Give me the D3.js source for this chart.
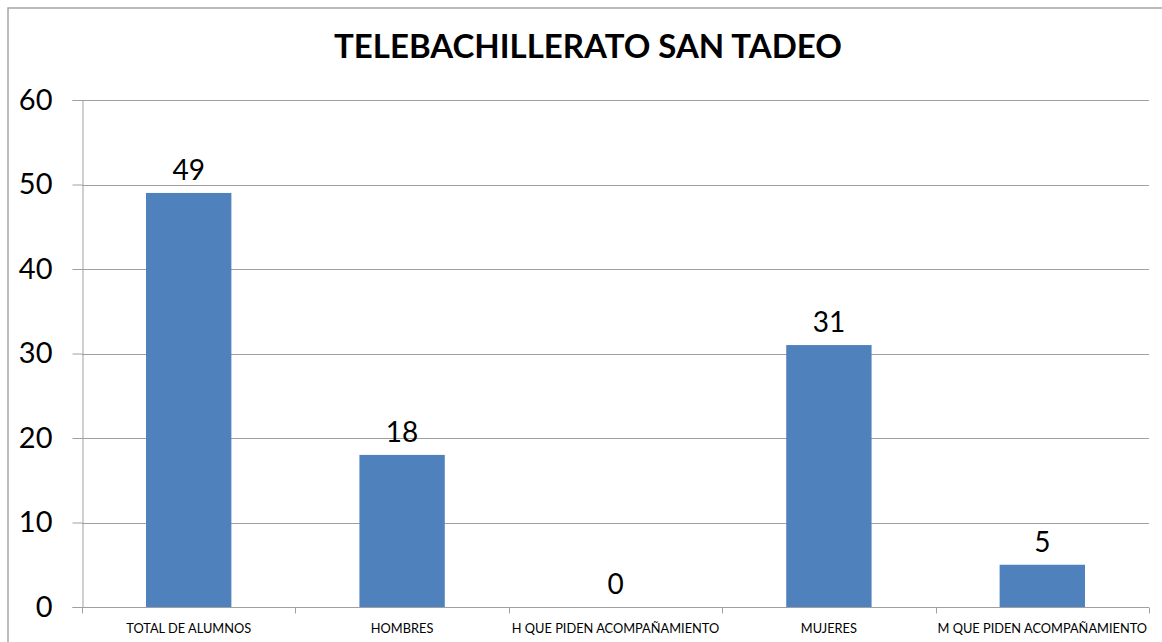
<!DOCTYPE html>
<html>
<head>
<meta charset="utf-8">
<script src="https://cdn.jsdelivr.net/npm/d3@7"></script>
<style>
  body { margin: 0; background: #fff; }
  svg { display: block; }
</style>
</head>
<body>
<svg id="chart"></svg>
<script>
// chart data
var categories = ["TOTAL  DE ALUMNOS", "HOMBRES", "H QUE PIDEN ACOMPAÑAMIENTO", "MUJERES", "M QUE PIDEN ACOMPAÑAMIENTO"];
var values = [49, 18, 0, 31, 5];
var yTicks = [0, 10, 20, 30, 40, 50, 60];
var title = "TELEBACHILLERATO SAN TADEO";

var width = 1162, height = 642;
var margin = {left: 82, right: 13, top: 100, bottom: 35};

var svg = d3.select("#chart").attr("width", width).attr("height", height);

// outer frame
svg.append("rect")
  .attr("x", 8).attr("y", 8)
  .attr("width", width + 10).attr("height", height + 10)
  .attr("fill", "none")
  .attr("stroke", "#a6a6a6")
  .attr("stroke-width", 1.5);

var x = d3.scaleBand()
  .domain(categories)
  .range([margin.left, width - margin.right])
  .paddingInner(0.6)
  .paddingOuter(0.3);

var y = d3.scaleLinear()
  .domain([0, 60])
  .range([height - margin.bottom, margin.top]);

// gridlines
svg.append("g")
  .selectAll("line")
  .data(yTicks.filter(function(d){ return d > 0; }))
  .join("line")
    .attr("x1", margin.left)
    .attr("x2", width - margin.right)
    .attr("y1", function(d){ return Math.round(y(d)) + 0.5; })
    .attr("y2", function(d){ return Math.round(y(d)) + 0.5; })
    .attr("stroke", "#a0a0a0");

// y axis
var yAxis = svg.append("g")
  .attr("transform", "translate(" + (margin.left + 0.5) + ",0)")
  .call(d3.axisLeft(y).tickValues(yTicks).tickSize(10).tickPadding(20));
yAxis.select(".domain").attr("stroke", "#a0a0a0");
yAxis.selectAll(".tick line").attr("stroke", "#a0a0a0");
yAxis.selectAll(".tick text")
  .attr("font-family", "Lato, 'Open Sans', sans-serif")
  .attr("font-size", 29)
  .attr("fill", "#000");

// bars
svg.append("g")
  .selectAll("rect")
  .data(values)
  .join("rect")
    .attr("x", function(d, i){ return x(categories[i]); })
    .attr("width", x.bandwidth())
    .attr("y", function(d){ return y(d); })
    .attr("height", function(d){ return y(0) - y(d); })
    .attr("fill", "#4f81bd");

// x axis
var xAxis = svg.append("g")
  .attr("transform", "translate(0," + (Math.round(y(0)) + 0.5) + ")");
xAxis.append("line")
  .attr("x1", margin.left).attr("x2", width - margin.right)
  .attr("stroke", "#a0a0a0");
xAxis.selectAll(".xt")
  .data(d3.range(categories.length + 1))
  .join("line")
    .attr("class", "xt")
    .attr("x1", function(i){ return Math.round(margin.left + i * (width - margin.left - margin.right) / categories.length) + 0.5; })
    .attr("x2", function(i){ return Math.round(margin.left + i * (width - margin.left - margin.right) / categories.length) + 0.5; })
    .attr("y1", 0).attr("y2", 6)
    .attr("stroke", "#a0a0a0");
xAxis.selectAll("text")
  .data(categories)
  .join("text")
    .attr("x", function(d){ return x(d) + x.bandwidth() / 2; })
    .attr("y", 25)
    .attr("text-anchor", "middle")
    .attr("font-family", "Lato, 'Open Sans', sans-serif")
    .attr("font-size", 12.8)
    .attr("fill", "#000")
    .text(function(d){ return d; });

// data labels
svg.append("g")
  .selectAll("text")
  .data(values)
  .join("text")
    .attr("x", function(d, i){ return x(categories[i]) + x.bandwidth() / 2; })
    .attr("y", function(d){ return y(d) - 13; })
    .attr("text-anchor", "middle")
    .attr("font-family", "Lato, 'Open Sans', sans-serif")
    .attr("font-size", 28)
    .attr("fill", "#000")
    .text(function(d){ return d; });

// title
svg.append("text")
  .attr("x", 588)
  .attr("y", 58)
  .attr("text-anchor", "middle")
  .attr("font-family", "Lato, 'Open Sans', sans-serif")
  .attr("font-weight", "bold")
  .attr("font-size", 33)
  .attr("fill", "#000")
  .text(title);
</script>
</body>
</html>
